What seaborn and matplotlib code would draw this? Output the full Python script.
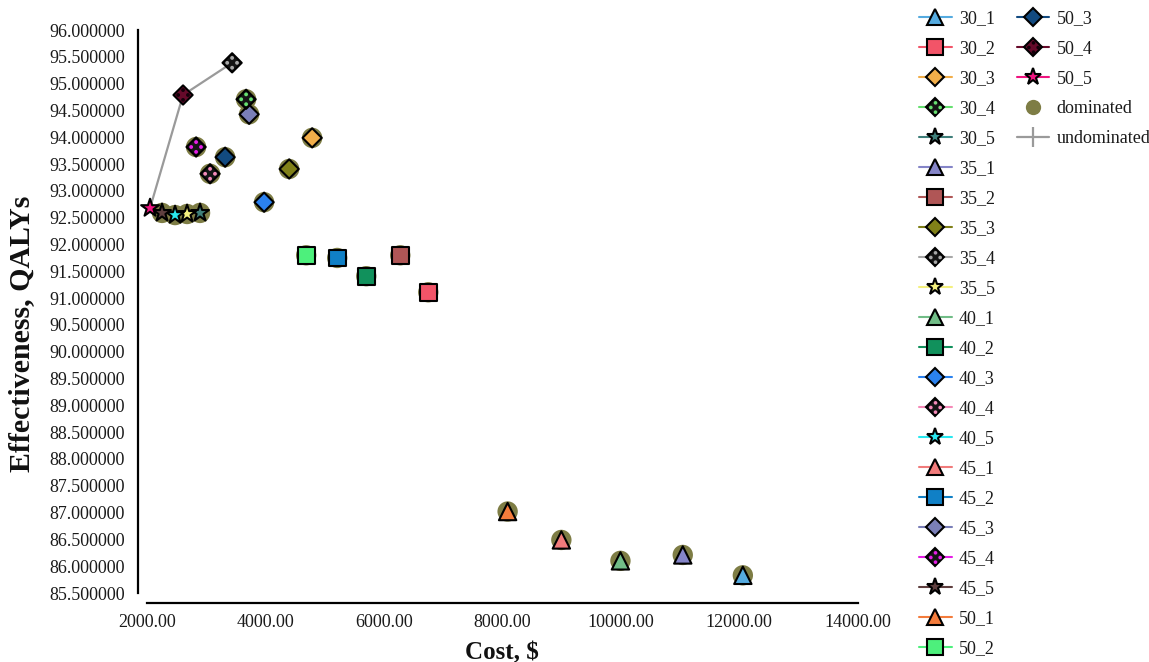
import matplotlib
matplotlib.use("Agg")
import matplotlib.pyplot as plt
import seaborn as sns
import pandas as pd
from matplotlib.lines import Line2D
from matplotlib.path import Path
from matplotlib.ticker import FormatStrFormatter, MultipleLocator

# ---------------- data ----------------
strategies = ["30_1", "30_2", "30_3", "30_4", "30_5",
              "35_1", "35_2", "35_3", "35_4", "35_5",
              "40_1", "40_2", "40_3", "40_4", "40_5",
              "45_1", "45_2", "45_3", "45_4", "45_5",
              "50_1", "50_2", "50_3", "50_4", "50_5"]
cost = [12061, 6752, 4792, 3677, 2900,
        11047, 6279, 4404, 3441, 2681,
        9995, 5705, 3981, 3069, 2478,
        8998, 5215, 3728, 2833, 2258,
        8091, 4691, 3323, 2613, 2056]
effectiveness = [85.83, 91.11, 93.99, 94.71, 92.59,
                 86.21, 91.80, 93.41, 95.39, 92.57,
                 86.10, 91.41, 92.79, 93.32, 92.55,
                 86.49, 91.75, 94.43, 93.82, 92.59,
                 87.02, 91.80, 93.63, 94.79, 92.68]
colors = ["#55abe0", "#f25468", "#f2ae49", "#66e070", "#3f7f7a",
          "#8585c8", "#b05656", "#808018", "#a8a8a8", "#f4f07e",
          "#71bd87", "#11915c", "#2b82ef", "#f58ab8", "#29e8f0",
          "#f17b7b", "#1080c6", "#7a7fb8", "#e61ee6", "#5f3f3f",
          "#f47c3c", "#4df07c", "#124a80", "#660a2a", "#f01480"]
undominated = ["50_5", "50_4", "35_4"]
x_ticks = [2000, 4000, 6000, 8000, 10000, 12000, 14000]
y_range = (85.5, 96.0)

# ---------------- style ----------------
sns.set_style("white")
plt.rcParams["font.family"] = ["Liberation Serif", "DejaVu Serif"]
plt.rcParams["text.color"] = "#1a1a1a"

df = pd.DataFrame({"strategy": strategies, "cost": cost,
                   "eff": effectiveness, "color": colors})
df["kind"] = df["strategy"].str[-1]
df["dominated"] = ~df["strategy"].isin(undominated)

fig = plt.figure(figsize=(11.49, 6.62), dpi=100)
ax = fig.add_axes([0.1277, 0.1042, 0.6188, 0.8503])

OLIVE = "#7e7d45"
# dominated background circles
sns.scatterplot(data=df[df["dominated"]], x="cost", y="eff", color=OLIVE,
                s=215, edgecolor="none", linewidth=0, ax=ax, zorder=1,
                legend=False, clip_on=False)
# undominated frontier line
und = df[~df["dominated"]].sort_values("cost")
sns.lineplot(data=und, x="cost", y="eff", color="#9a9a9a", lw=1.6,
             estimator=None, sort=True, ax=ax, zorder=2, legend=False)

# four-dot pattern marker (for the checkered diamonds)
dot_r = 0.14
dot_c = 0.36
dots_path = Path.make_compound_path(
    Path.circle((dot_c, 0), dot_r), Path.circle((-dot_c, 0), dot_r),
    Path.circle((0, dot_c), dot_r), Path.circle((0, -dot_c), dot_r))

kind_marker = {"1": "^", "2": "s", "3": "D", "4": "D", "5": "*"}
kind_size = {"1": 12.5, "2": 12.0, "3": 9.8, "4": 9.8, "5": 13.5}
EDGE_W = 1.5
palette = dict(zip(df["strategy"], df["color"]))
base_palette = {}
dot_palette = {}
for s, c in palette.items():
    if s.endswith("_4"):
        if s == "50_4":
            base_palette[s] = c
            dot_palette[s] = "#14000a"
        else:
            base_palette[s] = "#151515"
            dot_palette[s] = c
    else:
        base_palette[s] = c

for k, m in kind_marker.items():
    sub = df[df["kind"] == k]
    sns.scatterplot(data=sub, x="cost", y="eff", hue="strategy",
                    palette={s: base_palette[s] for s in sub["strategy"]},
                    marker=m, s=kind_size[k] ** 2, edgecolor="black",
                    linewidth=EDGE_W, ax=ax, zorder=3, legend=False,
                    clip_on=False)
sub4 = df[df["kind"] == "4"]
dot_ms = kind_size["4"] * 2 * (dot_c + dot_r)
sns.scatterplot(data=sub4, x="cost", y="eff", hue="strategy",
                palette={s: dot_palette[s] for s in sub4["strategy"]},
                marker=dots_path, s=dot_ms ** 2, edgecolor="none",
                linewidth=0, ax=ax, zorder=4, legend=False, clip_on=False)

# ---------------- axes ----------------
ax.set_xlim(x_ticks[0], x_ticks[-1])
ax.set_ylim(*y_range)
ax.set_xticks(x_ticks)
ax.yaxis.set_major_locator(MultipleLocator(0.5))
ax.xaxis.set_major_formatter(FormatStrFormatter("%.2f"))
ax.yaxis.set_major_formatter(FormatStrFormatter("%.6f"))
ax.tick_params(axis="y", direction="inout", length=12, width=1.2,
               color="#a6a6a6", labelsize=13, labelcolor="#1a1a1a", pad=3)
ax.tick_params(axis="x", direction="inout", length=10, width=1.2,
               color="#a6a6a6", labelsize=13, labelcolor="#1a1a1a", pad=3)
sns.despine(ax=ax, offset={"left": 6.5, "bottom": 7.2}, trim=True)
for side in ("left", "bottom"):
    ax.spines[side].set_color("black")
    ax.spines[side].set_linewidth(1.6)
ax.grid(False)

ax.set_xlabel("Cost, $", fontsize=18, fontweight="bold", color="#111111")
ax.set_ylabel("Effectiveness, QALYs", fontsize=21.5, fontweight="bold",
              color="#111111")
ax.xaxis.set_label_coords(0.5, -0.085)
ax.yaxis.set_label_coords(-0.157, 0.46)

# ---------------- legend ----------------
handles, labels = [], []
for s, c in zip(strategies, colors):
    k = s[-1]
    base = Line2D([0], [0], color=c, lw=1.5, marker=kind_marker[k],
                  markersize=kind_size[k] * 0.95,
                  markerfacecolor=base_palette[s], markeredgecolor="black",
                  markeredgewidth=EDGE_W)
    if k == "4":
        dots = Line2D([0], [0], color="none", lw=0, marker=dots_path,
                      markersize=dot_ms * 0.95, markerfacecolor=dot_palette[s],
                      markeredgecolor="none")
        handles.append((base, dots))
    else:
        handles.append(base)
    labels.append(s)
handles.append(Line2D([0], [0], color="none", marker="o", markersize=11,
                      markerfacecolor=OLIVE, markeredgecolor="none"))
labels.append("dominated")
handles.append(Line2D([0], [0], color="#9a9a9a", lw=1.6, marker="|",
                      markersize=14, markeredgewidth=1.6,
                      markeredgecolor="#9a9a9a"))
labels.append("undominated")
# pad so that the first column holds 22 rows
col1 = 22
while len(handles) < 2 * col1:
    handles.append(Line2D([], [], alpha=0))
    labels.append("")

fig.legend(handles, labels, loc="upper left",
           bbox_to_anchor=(0.800, 0.985), ncol=2, frameon=False,
           borderaxespad=0, borderpad=0, fontsize=13, handlelength=1.8,
           handletextpad=0.4, columnspacing=1.2, labelspacing=0.72)

fig.savefig("out.png", dpi=100)
